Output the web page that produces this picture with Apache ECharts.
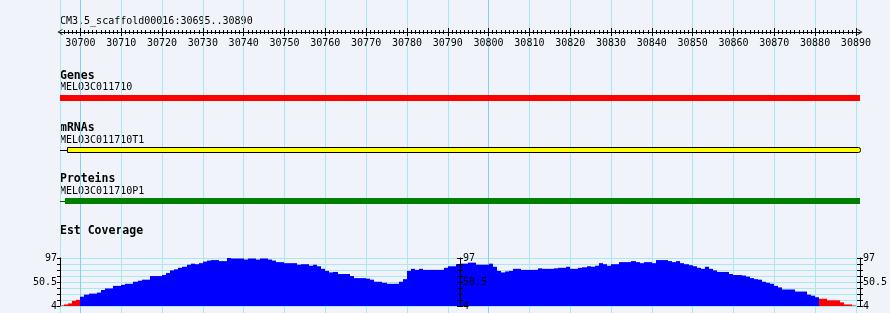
<!DOCTYPE html>
<html>
<head>
<meta charset="utf-8">
<script src="https://cdn.jsdelivr.net/npm/echarts@6/dist/echarts.min.js"></script>
<style>
html,body{margin:0;padding:0;background:#f0f4fa;}
#c{width:890px;height:313px;}
</style>
</head>
<body>
<div id="c"></div>
<script>
// ---------------- data ----------------
const regionTitle = 'CM3.5_scaffold00016:30695..30890';
const regionStart = 30695;
const regionEnd = 30891;
const rulerLabels = [30700,30710,30720,30730,30740,30750,30760,30770,30780,30790,
                     30800,30810,30820,30830,30840,30850,30860,30870,30880,30890];

const trackNames = ['Genes', 'mRNAs', 'Proteins'];
const featureNames = ['MELO3C011710', 'MELO3C011710T1', 'MELO3C011710P1'];
const featureStarts = [30695, 30695, 30695];
const featureBodyStarts = [30695, 30696.7, 30696.2];
const featureEnds = [30891, 30891, 30891];

const coverageTitle = 'Est Coverage';
const coverageStart = 30695;
const coverageAxisLabels = [4, 50.5, 97];
const lowCoverageCutoff = 20;
const coverageValues = [
  5,7,9,14,16,22,26,28,28,30,
  35,38,38,43,43,45,47,47,51,53,
  55,55,62,62,62,64,68,73,75,78,
  80,84,86,85,87,90,92,93,93,91,
  91,97,96,96,96,94,96,96,94,96,
  96,94,92,89,89,87,87,87,84,85,
  85,82,84,81,76,72,69,70,66,66,
  66,62,58,58,58,57,55,51,51,49,
  47,47,47,51,56,72,76,74,76,74,
  74,74,74,74,78,81,81,85,86,86,
  88,88,84,84,84,86,80,72,69,71,
  72,76,76,74,74,74,74,77,76,76,
  76,77,78,78,80,76,76,78,79,81,
  80,82,87,85,82,85,85,89,89,89,
  91,89,87,89,89,87,93,93,93,91,
  89,91,87,85,83,81,78,76,80,76,
  73,70,70,70,66,64,64,63,61,58,
  56,55,51,49,47,43,40,36,36,36,
  32,32,32,26,24,21,18,18,15,15,
  15,11,7,7,5
];

// ---------------- styles / layout ----------------
const L = 60, W = 800;
const mono = '"DejaVu Sans Mono", monospace';
const gridLight = '#a8e8ef';
const gridDark = '#8ccde8';
const trackFill = ['#ff0000', '#ffff00', '#008000'];
const trackStroke = [null, '#000000', null];
const leadColor = ['#000000', '#000000', '#006000'];
const trackTops = [95, 147, 198];
const trackHeights = [6, 5, 6];
const trackNameY = [76.5, 128.5, 179.5];
const featureNameY = [87, 140.5, 191];
const arrowPath = 'path://M0,8 L5,0 L10,8 L8.6,8 L5,2.4 L1.4,8 Z';

const gridValues = [regionStart].concat(rulerLabels);
const minorValues = [];
for (let v = regionStart + 1; v < regionEnd; v++) minorValues.push(v);
const yMin = coverageAxisLabels[0], yMax = coverageAxisLabels[coverageAxisLabels.length - 1];
const yTicks = [];
for (let k = 0; k <= 8; k++) yTicks.push(yMin + (yMax - yMin) * k / 8);

const baseGrid = {outerBoundsMode: 'none', containLabel: false, show: false, left: L, width: W};
const grids = [
  Object.assign({}, baseGrid, {top: 0, height: 313}),
  Object.assign({}, baseGrid, {top: 10, height: 22}),
  Object.assign({}, baseGrid, {top: trackTops[0], height: trackHeights[0]}),
  Object.assign({}, baseGrid, {top: trackTops[1], height: trackHeights[1]}),
  Object.assign({}, baseGrid, {top: trackTops[2], height: trackHeights[2]}),
  Object.assign({}, baseGrid, {top: 258, height: 48})
];

const hiddenX = gi => ({type: 'value', gridIndex: gi, min: regionStart, max: regionEnd, show: false});
const hiddenY = gi => ({type: 'value', gridIndex: gi, min: 0, max: 1, show: false});
const textStyleBase = {color: '#000', fontFamily: mono, fontSize: 10};

const xAxes = [
  { // background vertical grid lines
    type: 'value', gridIndex: 0, min: regionStart, max: regionEnd,
    axisLine: {show: false}, axisLabel: {show: false},
    axisTick: {show: false, customValues: gridValues},
    splitLine: {show: true, lineStyle: {width: 1, color: gridValues.map(v => v % 100 === 0 ? gridDark : gridLight)}}
  },
  { // ruler line + labels
    type: 'value', gridIndex: 1, position: 'bottom', min: regionStart, max: regionEnd,
    axisLine: {show: true, lineStyle: {color: '#000', width: 1}, symbol: [arrowPath, arrowPath], symbolSize: [7, 5]},
    axisTick: {show: false, customValues: rulerLabels},
    axisLabel: Object.assign({show: true, customValues: rulerLabels, margin: 6, hideOverlap: false,
      formatter: v => String(v)}, textStyleBase),
    splitLine: {show: false}
  },
  { // minor ticks (crossing line)
    type: 'value', gridIndex: 1, position: 'bottom', offset: -2, min: regionStart, max: regionEnd,
    axisLine: {show: false}, axisLabel: {show: false}, splitLine: {show: false},
    axisTick: {show: true, customValues: minorValues, length: 4, lineStyle: {color: '#000', width: 1}}
  },
  { // major ticks (crossing line)
    type: 'value', gridIndex: 1, position: 'bottom', offset: -4, min: regionStart, max: regionEnd,
    axisLine: {show: false}, axisLabel: {show: false}, splitLine: {show: false},
    axisTick: {show: true, customValues: rulerLabels, length: 8, lineStyle: {color: '#000', width: 1}}
  },
  hiddenX(2), hiddenX(3), hiddenX(4), hiddenX(5)
];

const covAxis = (position, offset, opts) => Object.assign({
  type: 'value', gridIndex: 5, position: position, offset: offset, min: yMin, max: yMax, z: 5,
  axisLine: {show: true, lineStyle: {color: '#000', width: 1}},
  axisTick: {show: true, customValues: yTicks, length: 3, lineStyle: {color: '#000', width: 1}},
  axisLabel: Object.assign({show: true, customValues: coverageAxisLabels, margin: 3, formatter: v => String(v)}, textStyleBase),
  splitLine: {show: false}
}, opts);

const yAxes = [
  hiddenY(0), hiddenY(1), hiddenY(2), hiddenY(3), hiddenY(4),
  covAxis('left', 0, {z: 0, splitLine: {show: true, lineStyle: {color: gridLight, width: 1}}}),
  covAxis('right', -W / 2, {}),
  covAxis('right', -W / 2, {axisLine: {show: false}, axisLabel: {show: false},
    axisTick: {show: true, inside: true, customValues: yTicks, length: 3, lineStyle: {color: '#000', width: 1}}}),
  covAxis('right', 0, {}),
  covAxis('right', 0, {axisLine: {show: false}, axisLabel: {show: false},
    axisTick: {show: true, inside: true, customValues: yTicks, length: 3, lineStyle: {color: '#000', width: 1}}})
];

function trackRenderer(k) {
  return function (params, api) {
    const s = api.value(0), b = api.value(1), e = api.value(2);
    const pS = api.coord([s, 0.5]);
    const pB = api.coord([b, 1]);
    const pE = api.coord([e, 0]);
    const children = [];
    if (b > s) {
      const yMid = Math.round(pS[1]) + 0.5;
      children.push({type: 'line', shape: {x1: Math.round(pS[0]), y1: yMid, x2: Math.round(pB[0]), y2: yMid},
        style: {stroke: leadColor[k], lineWidth: 1}});
    }
    const x0 = Math.round(pB[0]), x1 = Math.round(pE[0]);
    const rect = {type: 'rect', shape: {x: x0 + (trackStroke[k] ? 0.5 : 0), y: pB[1] + (trackStroke[k] ? 0.5 : 0),
      width: x1 - x0, height: pE[1] - pB[1], r: trackStroke[k] ? [0, 2, 2, 0] : 0},
      style: {fill: trackFill[k], stroke: trackStroke[k] || null, lineWidth: trackStroke[k] ? 1 : 0}};
    children.push(rect);
    return {type: 'group', children: children};
  };
}

function coverageRender(params, api) {
  const v = api.value(2);
  const a = api.coord([api.value(0), v]);
  const b = api.coord([api.value(1), yMin]);
  const x0 = Math.round(a[0]), x1 = Math.round(b[0]);
  return {type: 'rect', shape: {x: x0, y: a[1], width: x1 - x0, height: b[1] - a[1]},
    style: {fill: v < lowCoverageCutoff ? '#ff0000' : '#0000ff'}};
}

const coverageData = coverageValues.map((v, i) => [coverageStart + i, coverageStart + i + 1, v]);

const series = trackNames.map((n, k) => ({
  type: 'custom', name: n, xAxisIndex: 4 + k, yAxisIndex: 2 + k, silent: true, z: 3,
  data: [[featureStarts[k], featureBodyStarts[k], featureEnds[k]]],
  renderItem: trackRenderer(k)
}));
series.push({type: 'custom', name: coverageTitle, xAxisIndex: 7, yAxisIndex: 5, silent: true, z: 3,
  data: coverageData, renderItem: coverageRender});

const boldFont = 'bold 11.5px ' + mono;
const smallFont = '10px ' + mono;
const graphics = [
  {type: 'text', x: 60, y: 21.5, style: {text: regionTitle, font: smallFont, fill: '#000', verticalAlign: 'middle'}},
  {type: 'text', x: 60, y: 231, style: {text: coverageTitle, font: boldFont, fill: '#000', verticalAlign: 'middle'}}
];
trackNames.forEach((n, k) => {
  graphics.push({type: 'text', x: 60, y: trackNameY[k], style: {text: n, font: boldFont, fill: '#000', verticalAlign: 'middle'}});
  graphics.push({type: 'text', x: 60, y: featureNameY[k], style: {text: featureNames[k], font: smallFont, fill: '#000', verticalAlign: 'middle'}});
});

const chart = echarts.init(document.getElementById('c'), null, {renderer: 'canvas'});
chart.setOption({
  backgroundColor: '#f0f4fa',
  animation: false,
  textStyle: {fontFamily: mono},
  grid: grids,
  xAxis: xAxes,
  yAxis: yAxes,
  series: series,
  graphic: graphics
});
</script>
</body>
</html>
